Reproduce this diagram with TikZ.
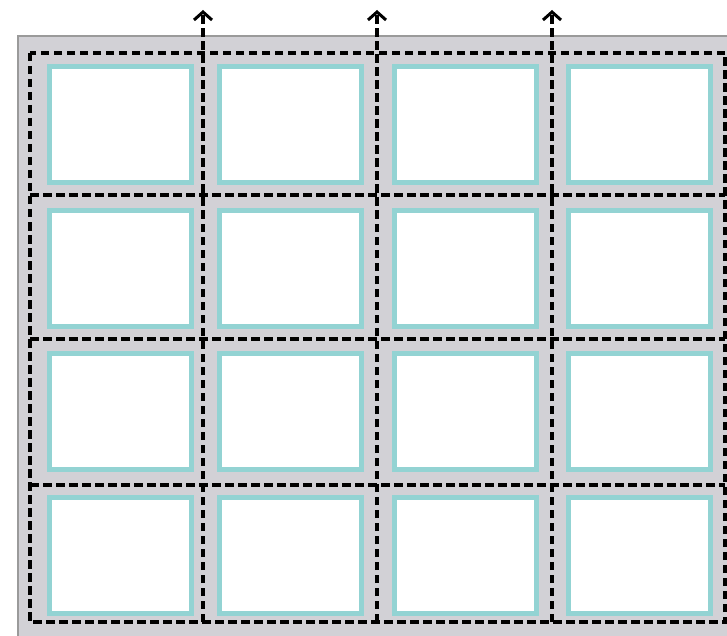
\documentclass[tikz,border=0pt]{standalone}
\usetikzlibrary{arrows.meta}
\definecolor{bggray}{HTML}{D2D1D6}
\definecolor{edgegray}{HTML}{9A9A9A}
\definecolor{cellcyan}{HTML}{93D3D3}
\tikzset{
  panelbox/.style={draw=cellcyan, line width=5pt, fill=white, inner sep=0pt, minimum width=142pt, minimum height=116pt},
  cutline/.style={draw=black, line width=3.6pt, dash pattern=on 8.5pt off 4.5pt},
  flowarrow/.style={cutline, -{Straight Barb[length=8pt,width=18pt,line width=3pt]}}
}
\begin{document}
\begin{tikzpicture}[x=1pt,y=-1pt]
\useasboundingbox (0,0) rectangle (727,636);
\fill[bggray] (18,36) rectangle (730,640);
\draw[edgegray, line width=1.5pt] (18,640) -- (18,36) -- (730,36);
% panels
\foreach \c/\x in {0/120,1/290.5,2/465.5,3/639}{
  \foreach \r/\y in {0/125,1/268.5,2/411.5,3/555.5}{
    \node[panelbox] (p\r\c) at (\x,\y) {};
  }
}
% grid
\coordinate (tl) at (30,53);
\coordinate (br) at (725,622);
\draw[cutline] (tl) rectangle (br);
\foreach \y [count=\i] in {195,339,485}{
  \coordinate (hl\i) at (30,\y);
  \coordinate (hr\i) at (725,\y);
  \draw[cutline] (hl\i) -- (hr\i);
}
\foreach \x [count=\i] in {203,377,552}{
  \coordinate (vb\i) at (\x,622);
  \coordinate (vt\i) at (\x,10);
  \draw[flowarrow] (vb\i) -- (vt\i);
}
\end{tikzpicture}
\end{document}
